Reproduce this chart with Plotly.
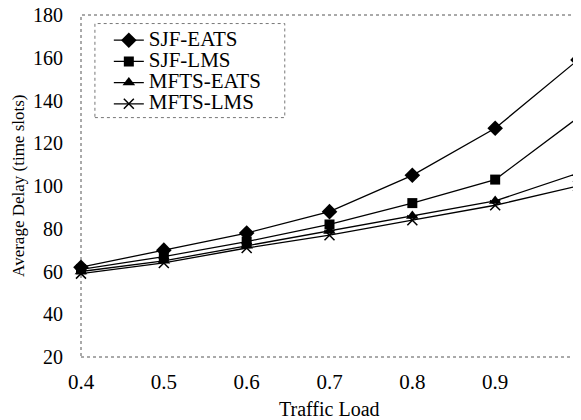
import plotly.graph_objects as go

traffic_load = [0.4, 0.5, 0.6, 0.7, 0.8, 0.9, 1.0]
sjf_eats = [62, 70, 78, 88, 105, 127, 159]
sjf_lms = [61, 67, 74, 82, 92, 103, 132]
mfts_eats = [60, 65, 72, 79, 86, 93, 106]
mfts_lms = [59, 64, 71, 77, 84, 91, 100]
x_tick_vals = [0.4, 0.5, 0.6, 0.7, 0.8, 0.9, 1.0]
x_tick_text = ["0.4", "0.5", "0.6", "0.7", "0.8", "0.9", "1"]
y_tick_vals = [20, 40, 60, 80, 100, 120, 140, 160, 180]

FONT = "Liberation Serif"

series = [
    ("SJF-EATS", sjf_eats, dict(symbol="diamond", size=12)),
    ("SJF-LMS", sjf_lms, dict(symbol="square", size=10)),
    ("MFTS-EATS", mfts_eats, dict(symbol="triangle-up", size=11)),
    ("MFTS-LMS", mfts_lms, dict(symbol="x-thin", size=10, line=dict(width=1.5, color="black"))),
]

fig = go.Figure()
for name, vals, mk in series:
    fig.add_trace(go.Scatter(
        x=traffic_load, y=vals,
        name="<span style='font-size:21px'>%s</span>" % name,
        mode="lines+markers",
        line=dict(color="black", width=1.3),
        marker=dict(color="black", **mk),
        cliponaxis=False,
    ))

# page body has an 8px margin, so the figure is offset by 8px
fig.update_layout(
    width=583, height=412,
    margin=dict(l=73, r=13, t=7, b=63),
    paper_bgcolor="white", plot_bgcolor="white",
    font=dict(family=FONT, color="black"),
    showlegend=True,
    legend=dict(
        x=0.056, y=0.972, xanchor="left", yanchor="top",
        bgcolor="rgba(0,0,0,0)", borderwidth=0,
        font=dict(family=FONT, size=14, color="black"),
        tracegroupgap=0,
    ),
    xaxis=dict(
        range=[0.4, 1.0], tickvals=x_tick_vals, ticktext=x_tick_text,
        showgrid=False, zeroline=False, showline=False, ticks="",
        tickfont=dict(family=FONT, size=21, color="black"),
        ticklabelstandoff=10, ticklabeloverflow="allow", automargin=False,
    ),
    yaxis=dict(
        range=[20, 180], tickvals=y_tick_vals,
        showgrid=False, zeroline=False, showline=False, ticks="",
        tickfont=dict(family=FONT, size=20, color="black"),
        ticklabelstandoff=17, ticklabeloverflow="allow", automargin=False,
    ),
    shapes=[
        dict(type="rect", xref="paper", yref="paper", x0=0, y0=0, x1=1, y1=1,
             line=dict(color="#555", width=1, dash="dot"), layer="below"),
        dict(type="rect", xref="paper", yref="paper", x0=0.028, y0=0.70, x1=0.41, y1=0.975,
             line=dict(color="#777", width=1, dash="dot"), layer="below"),
    ],
    annotations=[
        dict(text="Average Delay (time slots)", xref="paper", yref="paper",
             x=-0.127, y=0.5, textangle=-90, showarrow=False,
             font=dict(family=FONT, size=17, color="black"), xanchor="center", yanchor="middle"),
        dict(text="Traffic Load", xref="paper", yref="paper",
             x=0.5, y=-0.152, showarrow=False,
             font=dict(family=FONT, size=20, color="black"), xanchor="center", yanchor="middle"),
    ],
)

fig.write_html("out.html")
